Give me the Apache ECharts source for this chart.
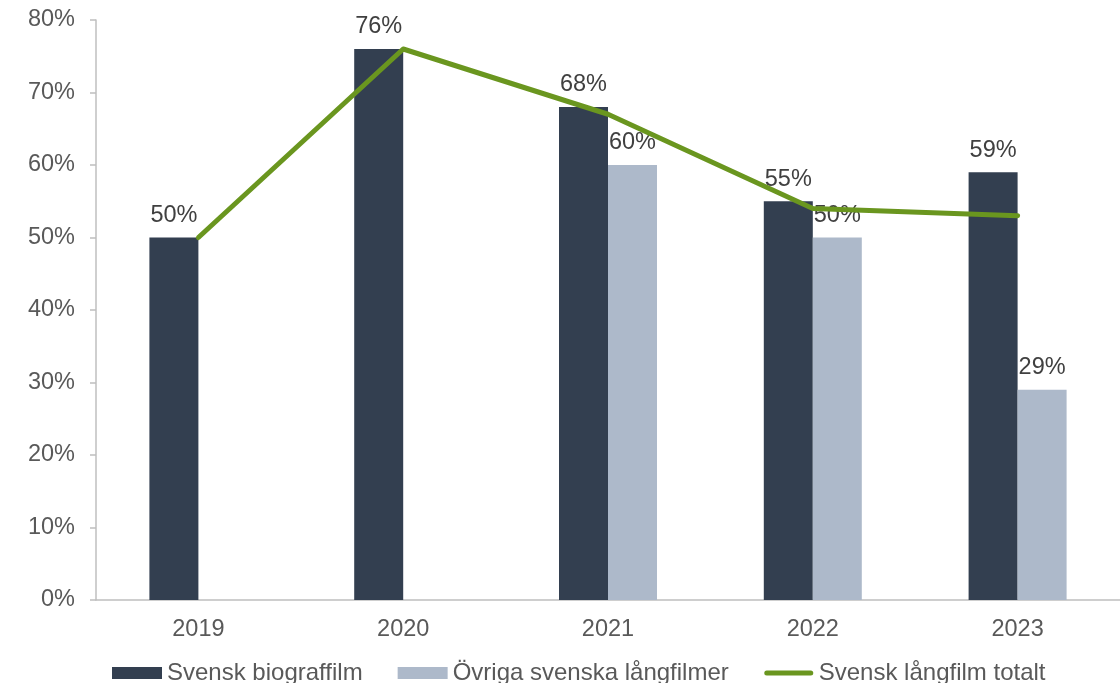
<!DOCTYPE html>
<html>
<head>
<meta charset="utf-8">
<script src="https://cdn.jsdelivr.net/npm/echarts@6/dist/echarts.min.js"></script>
<style>html,body{margin:0;padding:0;background:#fff}#c{width:1120px;height:683px}</style>
</head>
<body>
<div id="c"></div>
<script>
const categories = ['2019', '2020', '2021', '2022', '2023'];
const svenskBiograffilm = [50, 76, 68, 55, 59];
const ovrigaSvenska = [null, null, 60, 50, 29];
const svenskTotalt = [50, 76, 67, 54, 53];
const yTicks = [0, 10, 20, 30, 40, 50, 60, 70, 80];

const font = 'Liberation Sans, Arial, sans-serif';
const fs = 23.5;
const chart = echarts.init(document.getElementById('c'));
chart.setOption({
  backgroundColor: '#ffffff',
  animation: false,
  grid: { left: 96, right: 0, top: 20, bottom: 83, containLabel: false },
  legend: {
    left: 107, top: 656,
    itemWidth: 50, itemHeight: 12, itemGap: 35,
    textStyle: { fontFamily: font, fontSize: 24, color: '#595959', padding: [0, 0, 0, 0] },
    data: [
      { name: 'Svensk biograffilm', icon: 'rect' },
      { name: 'Övriga svenska långfilmer', icon: 'rect' },
      { name: 'Svensk långfilm totalt', icon: 'path://M0,0M50,12M3,3.5L47,3.5A2.5,2.5,0,0,1,47,8.5L3,8.5A2.5,2.5,0,0,1,3,3.5Z' }
    ]
  },
  xAxis: {
    type: 'category',
    data: categories,
    axisLine: { lineStyle: { color: '#BFBFBF', width: 1.5 } },
    axisTick: { show: false },
    axisLabel: { fontFamily: font, fontSize: fs, color: '#595959', margin: 18 }
  },
  yAxis: {
    type: 'value',
    min: yTicks[0], max: yTicks[yTicks.length - 1], interval: 10,
    splitLine: { show: false },
    axisLine: { show: true, lineStyle: { color: '#BFBFBF', width: 1.5 } },
    axisTick: { show: true, length: 6, lineStyle: { color: '#BFBFBF', width: 1.5 } },
    axisLabel: { fontFamily: font, fontSize: fs, color: '#595959', margin: 21, formatter: '{value}%' }
  },
  series: [
    {
      name: 'Svensk biograffilm', type: 'bar', data: svenskBiograffilm,
      barWidth: 49, barGap: '0%',
      itemStyle: { color: '#333F50' },
      label: { show: true, position: 'top', distance: 10, fontFamily: font, fontSize: fs, color: '#404040', formatter: '{c}%' }
    },
    {
      name: 'Övriga svenska långfilmer', type: 'bar', data: ovrigaSvenska,
      barWidth: 49, barGap: '0%',
      itemStyle: { color: '#ADB9CA' },
      label: { show: true, position: 'top', distance: 10, fontFamily: font, fontSize: fs, color: '#404040', formatter: '{c}%' }
    },
    {
      name: 'Svensk långfilm totalt', type: 'line', data: svenskTotalt,
      symbol: 'none', z: 5,
      lineStyle: { color: '#6A961F', width: 5, cap: 'round', join: 'round' },
      itemStyle: { color: '#6A961F' }
    }
  ]
});
</script>
</body>
</html>
